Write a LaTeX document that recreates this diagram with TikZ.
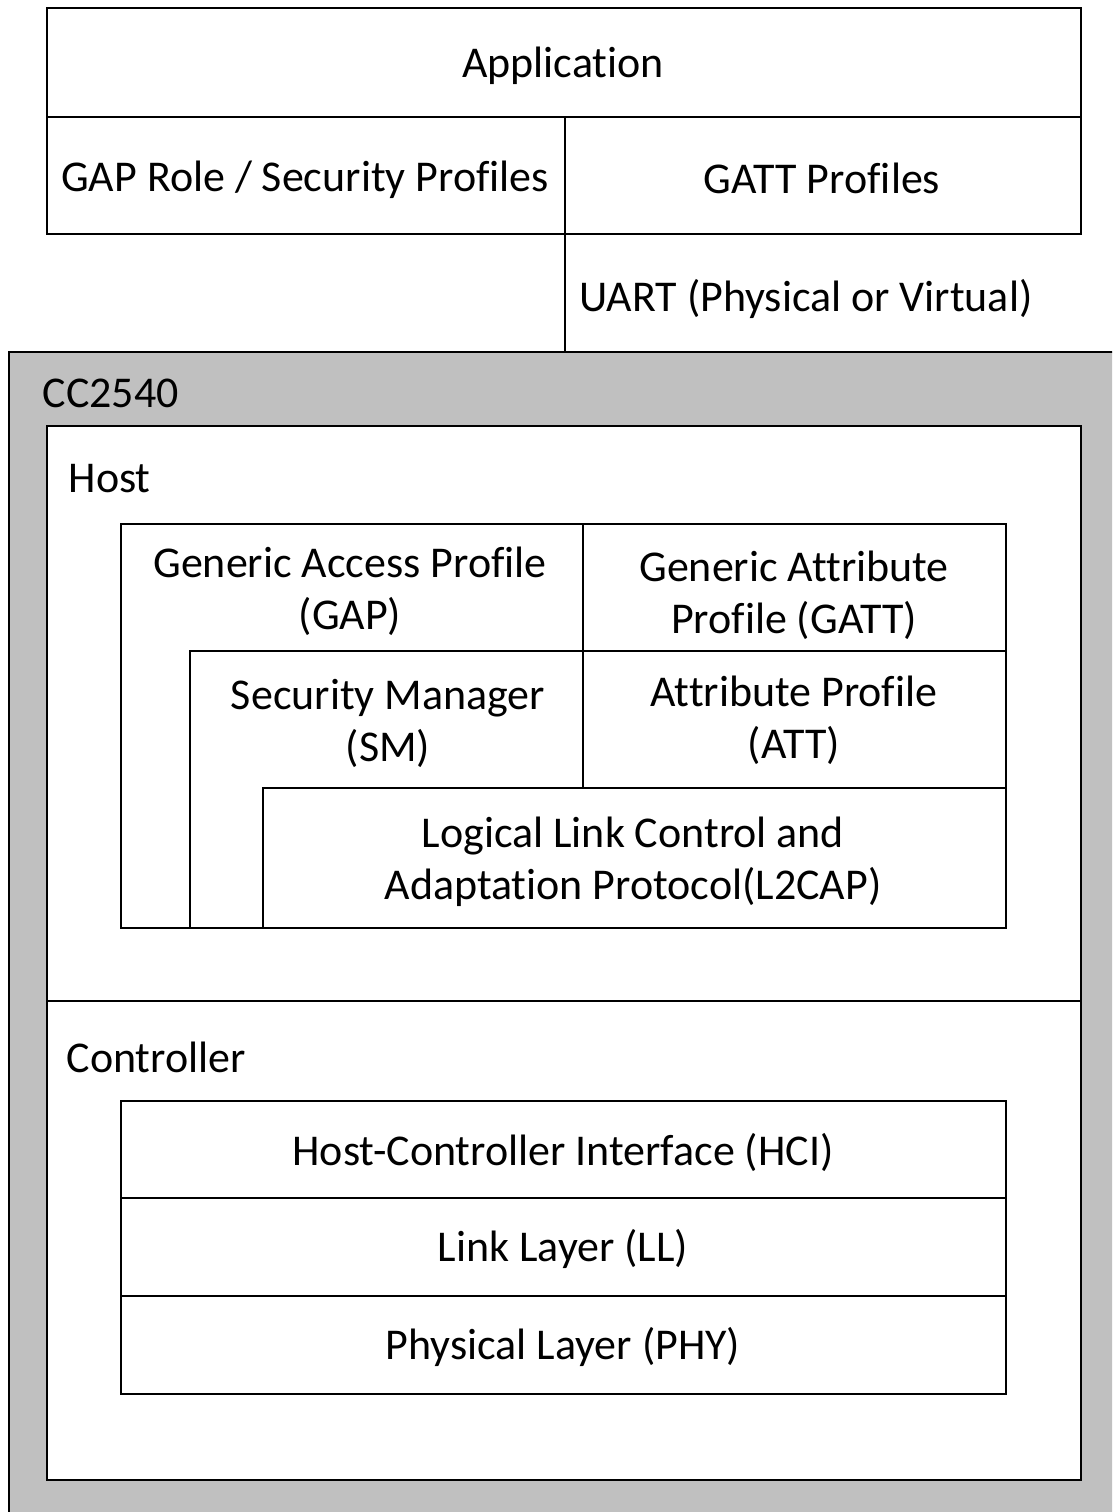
\documentclass[tikz,border=0pt]{standalone}
\usepackage{fontspec}
\setmainfont[Ligatures={NoCommon,NoContextual,NoRequired},RawFeature={-liga;-clig;-dlig;-calt}]{Carlito}
\definecolor{chipgray}{HTML}{C0C0C0}
\tikzset{
  layer/.style={draw=black, line width=0.6pt, fill=white},
  lbl/.style={inner sep=0pt, font=\fontsize{12.5}{14.8}\selectfont, align=center},
  tag/.style={inner sep=0pt, anchor=west, font=\fontsize{12.5}{14.8}\selectfont},
}
\begin{document}
\begin{tikzpicture}[x=0.01cm,y=-0.01cm]
\clip (0,0) rectangle (1112,1512);
\fill[white] (0,0) rectangle (1112,1512);

% application side
\draw[layer] (47,8) rectangle (1081,234);
\draw[line width=0.6pt] (47,117) -- (1081,117);
\draw[line width=0.6pt] (565,117) -- (565,352);
\node[lbl] (app) at (563,66) {Application};
\node[lbl] (gaprole) at (305,180) {GAP Role / Security Profiles};
\node[lbl] (gattprof) at (822,178) {GATT Profiles};
\node[lbl] (uart) at (806,299) {UART (Physical or Virtual)};

% chip
\draw[line width=0.6pt, fill=chipgray] (9,352) rectangle (1140,1540);
\node[tag] (chip) at (42,393) {CC2540};
\draw[layer] (47,426) rectangle (1081,1480);
\draw[line width=0.6pt] (47,1001) -- (1081,1001);
\node[tag] (host) at (68,479) {Host};
\node[tag] (ctrl) at (66,1057) {Controller};

% host stack
\draw[layer] (121,524) rectangle (583,928);
\draw[layer] (583,524) rectangle (1006,651);
\draw[layer] (190,651) rectangle (583,928);
\draw[layer] (583,651) rectangle (1006,788);
\draw[layer] (263,788) rectangle (1006,928);
\node[lbl] (gap) at (350,591) {Generic Access Profile\\(GAP)};
\node[lbl] (gatt) at (794,595) {Generic Attribute\\Profile (GATT)};
\node[lbl] (sm) at (388,723) {Security Manager\\(SM)};
\node[lbl] (att) at (794,720) {Attribute Profile\\(ATT)};
\node[lbl] (l2cap) at (633,862) {Logical Link Control and\\Adaptation Protocol(L2CAP)};

% controller stack
\draw[layer] (121,1101) rectangle (1006,1394);
\draw[line width=0.6pt] (121,1198) -- (1006,1198);
\draw[line width=0.6pt] (121,1296) -- (1006,1296);
\node[lbl] (hci) at (563,1152) {Host-Controller Interface (HCI)};
\node[lbl] (ll) at (563,1249) {Link Layer (LL)};
\node[lbl] (phy) at (563,1347) {Physical Layer (PHY)};
\end{tikzpicture}
\end{document}
